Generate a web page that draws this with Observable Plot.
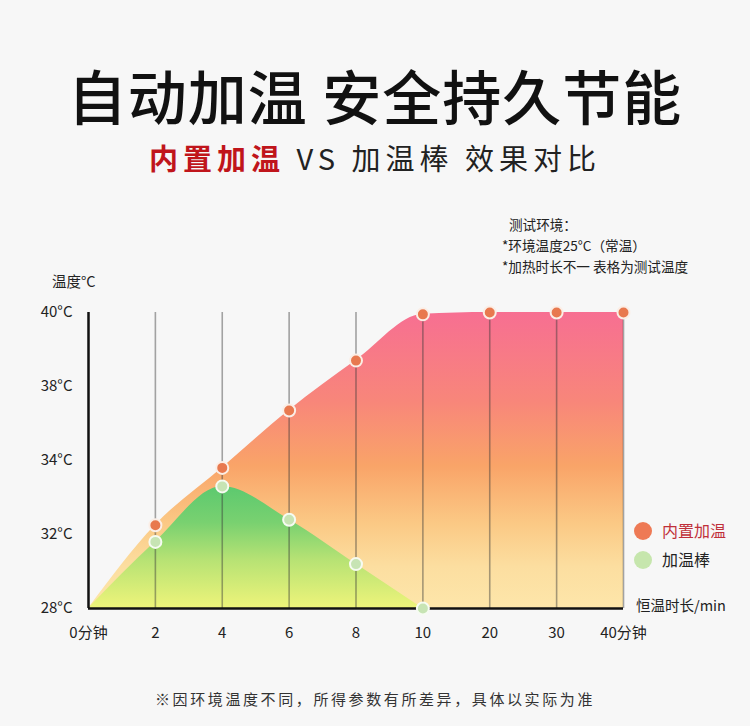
<!DOCTYPE html>
<html>
<head>
<meta charset="utf-8">
<script src="https://cdn.jsdelivr.net/npm/d3@7"></script>
<script src="https://cdn.jsdelivr.net/npm/@observablehq/plot@0.6"></script>
<style>
  html, body { margin: 0; padding: 0; background: #f7f7f7; }
  body { width: 750px; height: 726px; position: relative; overflow: hidden;
         font-family: "Noto Sans CJK SC", "Noto Sans", sans-serif; color: #222; }
  .abs { position: absolute; white-space: nowrap; }
  #title { left: 0; width: 750px; top: 55px; text-align: center; font-size: 59px; font-weight: 500;
           line-height: 80px; color: #111; letter-spacing: 1px; }
  #subtitle { left: 0; width: 750px; top: 137px; text-align: center; font-size: 29px; line-height: 40px;
              letter-spacing: 5px; color: #222; }
  #subtitle .red { color: #c0151b; font-weight: 700; }
  #notes { left: 502px; top: 214px; font-size: 13.6px; line-height: 21px; color: #222; }
  #ylabel { left: 52px; top: 271px; font-size: 14.5px; line-height: 20px; color: #222; }
  #legend { left: 634px; top: 516px; font-size: 16px; line-height: 29px; }
  #legend .dot { display: inline-block; width: 18px; height: 18px; border-radius: 50%; vertical-align: -3px; margin-right: 10px; }
  #xunit { left: 636px; top: 595px; font-size: 14.5px; line-height: 20px; color: #222; }
  #foot { left: 0; width: 750px; top: 688px; text-align: center; font-size: 15px; line-height: 22px;
          letter-spacing: 2.6px; color: #333; }
  #chart { left: 0; top: 290px; }
</style>
</head>
<body>
<div id="title" class="abs">自动加温 安全持久节能</div>
<div id="subtitle" class="abs"><span class="red">内置加温</span> VS 加温棒 效果对比</div>
<div id="notes" class="abs"><div style="padding-left:7px">测试环境：</div><div>*环境温度25°C（常温）</div><div>*加热时长不一 表格为测试温度</div></div>
<div id="ylabel" class="abs">温度°C</div>
<div id="legend" class="abs">
  <div><span class="dot" style="background:#ee7a55"></span><span style="color:#c0303a">内置加温</span></div>
  <div><span class="dot" style="background:#c6e6ad"></span><span style="color:#222">加温棒</span></div>
</div>
<div id="xunit" class="abs">恒温时长/min</div>
<div id="foot" class="abs">※因环境温度不同，所得参数有所差异，具体以实际为准</div>
<div id="chart" class="abs"></div>
<script>
// ---- data ----
const minutes = [0, 2, 4, 6, 8, 10, 20, 30, 40];
const xTickLabels = ["0分钟", "2", "4", "6", "8", "10", "20", "30", "40分钟"];
const yTicks = [28, 32, 34, 38, 40];
const builtInTemps = [28, 32.25, 33.8, 36.7, 38.7, 39.95, 40, 40, 40]; // 内置加温
const heaterMinutes = [0, 2, 4, 6, 8, 10];
const heaterTemps = [28, 31.6, 33.3, 32.4, 30.4, 28];                  // 加温棒

const builtIn = minutes.map((m, i) => ({m, t: builtInTemps[i]}));
const heater = heaterMinutes.map((m, i) => ({m, t: heaterTemps[i]}));

const W = 750, H = 358, mT = 22, mB = 40, mL = 88, mR = 127;
const yBottom = H - mB, yTop = mT;
const yRange = yTicks.map((_, i) => yBottom - i * (yBottom - yTop) / (yTicks.length - 1));
const xFormat = d => xTickLabels[minutes.indexOf(d)];

const plot = Plot.plot({
  width: W, height: H,
  marginTop: mT, marginBottom: mB, marginLeft: mL, marginRight: mR,
  style: {background: "transparent", fontFamily: "'Noto Sans CJK SC', sans-serif", fontSize: "15px", color: "#222"},
  x: {type: "point", domain: minutes, padding: 0, round: false, label: null, tickFormat: xFormat},
  y: {type: "linear", domain: yTicks, range: yRange, label: null},
  marks: [
    Plot.areaY(builtIn, {x: "m", y1: 28, y2: "t", curve: "monotone-x", fill: "url(#gradRed)"}),
    Plot.areaY(heater, {x: "m", y1: 28, y2: "t", curve: "monotone-x", fill: "url(#gradGreen)"}),
    Plot.ruleX(minutes.slice(1), {y1: 28, y2: 40, stroke: "#3a3a3a", strokeOpacity: 0.45, strokeWidth: 1.6}),
    Plot.ruleX([minutes[0]], {y1: 28, y2: 40, stroke: "#111", strokeWidth: 2.5}),
    Plot.ruleY([28], {stroke: "#111", strokeWidth: 2.5}),
    Plot.dot(builtIn.slice(1), {x: "m", y: "t", r: 6, fill: "#e8794f", stroke: "#fbeee6", strokeWidth: 2}),
    Plot.dot(heater.slice(1), {x: "m", y: "t", r: 6, fill: "#c7e4b4", stroke: "#f6fbf2", strokeWidth: 2}),
    Plot.axisY({ticks: yTicks, tickFormat: d => d + "°C", tickSize: 0, tickPadding: 16, fontSize: 15, label: null}),
    Plot.axisX({tickFormat: xFormat, tickSize: 0, tickPadding: 19, fontSize: 15, label: null})
  ]
});

const defs = d3.select(plot).insert("defs", ":first-child");
const gr = defs.append("linearGradient").attr("id", "gradRed").attr("x1", 0).attr("y1", 0).attr("x2", 0).attr("y2", 1);
[[0, "#f76f92"], [0.3, "#f8867a"], [0.52, "#f9a468"], [0.72, "#fbca86"], [0.86, "#fcdea0"], [1, "#fde6aa"]]
  .forEach(([o, c]) => gr.append("stop").attr("offset", o).attr("stop-color", c));
const gg = defs.append("linearGradient").attr("id", "gradGreen").attr("x1", 0).attr("y1", 0).attr("x2", 0).attr("y2", 1);
[[0, "#5cc96f"], [0.3, "#79d170"], [0.6, "#b6e274"], [1, "#eef47a"]]
  .forEach(([o, c]) => gg.append("stop").attr("offset", o).attr("stop-color", c));

document.getElementById("chart").appendChild(plot);
</script>
</body>
</html>
